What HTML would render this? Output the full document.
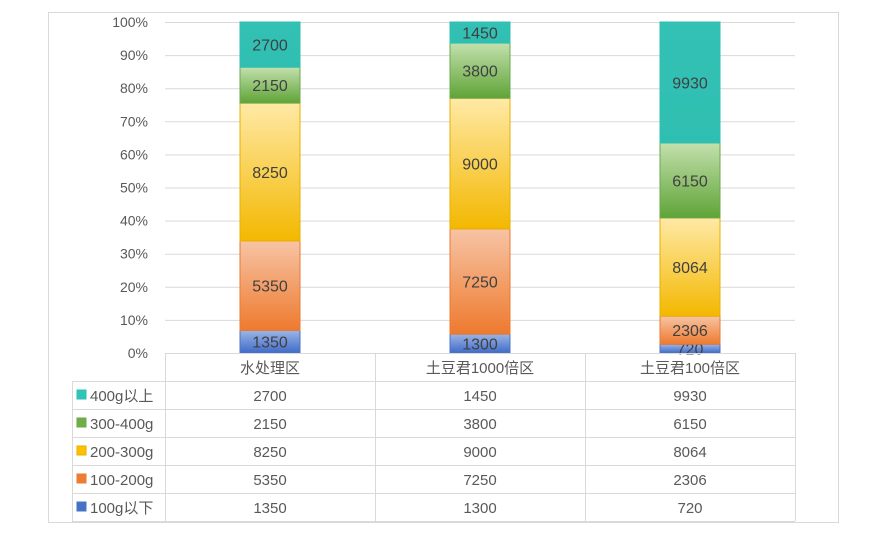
<!DOCTYPE html>
<html><head><meta charset="utf-8"><style>
body{margin:0;background:#fff;font-family:"Liberation Sans","Noto Sans CJK SC",sans-serif}
svg text{font-family:"Liberation Sans","Noto Sans CJK SC",sans-serif}
</style></head><body>
<svg id="c" width="888" height="530">
<defs>
<linearGradient id="g0" x1="0" y1="0" x2="0" y2="1"><stop offset="0" stop-color="#9db4e6"/><stop offset="1" stop-color="#3f6cc8"/></linearGradient>
<linearGradient id="g1" x1="0" y1="0" x2="0" y2="1"><stop offset="0" stop-color="#f7c4a5"/><stop offset="1" stop-color="#ee7a2e"/></linearGradient>
<linearGradient id="g2" x1="0" y1="0" x2="0" y2="1"><stop offset="0" stop-color="#ffe9a6"/><stop offset="1" stop-color="#f3b800"/></linearGradient>
<linearGradient id="g3" x1="0" y1="0" x2="0" y2="1"><stop offset="0" stop-color="#c3e0ad"/><stop offset="1" stop-color="#5fa437"/></linearGradient>
<linearGradient id="g4" x1="0" y1="0" x2="0" y2="1"><stop offset="0" stop-color="#33c1b4"/><stop offset="1" stop-color="#2fbfb2"/></linearGradient>
</defs>
<rect x="48.5" y="12.5" width="790" height="510" fill="#fff" stroke="#d9d9d9"/>
</svg>
<script>
const categories=["水处理区","土豆君1000倍区","土豆君100倍区"];
const seriesNames=["100g以下","100-200g","200-300g","300-400g","400g以上"];
const s100=[1350,1300,720];
const s200=[5350,7250,2306];
const s300=[8250,9000,8064];
const s400=[2150,3800,6150];
const s400p=[2700,1450,9930];
const yTicks=[0,10,20,30,40,50,60,70,80,90,100];
const series=[s100,s200,s300,s400,s400p];
const fills=["url(#g0)","url(#g1)","url(#g2)","url(#g3)","url(#g4)"];
const strokes=["#4a74c4","#e97a35","#e6b000","#6aa84f","#2fbfb2"];
const swatch=["#4472c4","#ed7d31","#ffc000","#70ad47","#2ec4b6"];
const NS="http://www.w3.org/2000/svg",svg=document.getElementById('c');
const X0=165,X1=795,Y0=353,Y1=22,cw=(X1-X0)/categories.length,bw=60;
const y=p=>Y0-(Y0-Y1)*p/100, xc=i=>X0+cw*(i+0.5);
function mk(t,a,txt){const e=document.createElementNS(NS,t);for(const k in a)e.setAttribute(k,a[k]);if(txt!=null)e.textContent=txt;svg.appendChild(e);return e;}
yTicks.forEach(t=>{
 const g=mk('line',{x1:X0,x2:X1,y1:y(t)+.5,y2:y(t)+.5,stroke:'#d9d9d9'});
 
 
 const l=mk('text',{x:148,y:y(t)+5,'text-anchor':'end','font-size':14,fill:'#595959'},t+'%');
 
 
});
categories.forEach((c,i)=>{
 const tot=series.reduce((a,s)=>a+s[i],0);let acc=0;
 series.forEach((s,k)=>{
  const p0=acc/tot*100;acc+=s[i];const p1=acc/tot*100;
  const r=mk('rect',{x:xc(i)-bw/2,y:y(p1),width:bw,height:y(p0)-y(p1),fill:fills[k],stroke:strokes[k],'stroke-width':1});
  
  
  const t=mk('text',{x:xc(i),y:(y(p0)+y(p1))/2+6,'text-anchor':'middle','font-size':16,fill:'#404040'},s[i]);
  
  
 });
});
// table
const rowH=28,T0=353;
const rows=[4,3,2,1,0];
const L=72;
mk('line',{x1:X0+.5,x2:X0+.5,y1:T0,y2:T0+rowH*6,stroke:'#d9d9d9'});
mk('line',{x1:L+.5,x2:L+.5,y1:T0+rowH,y2:T0+rowH*6,stroke:'#d9d9d9'});
for(let r=0;r<=6;r++){const yy=T0+rowH*r+.5;mk('line',{x1:r<1?X0:L,x2:X1,y1:yy,y2:yy,stroke:'#d9d9d9'});}
for(let i=0;i<=categories.length;i++){mk('line',{x1:X0+cw*i+.5,x2:X0+cw*i+.5,y1:T0,y2:T0+rowH*6,stroke:'#d9d9d9'});}
categories.forEach((c,i)=>{
 const t=mk('text',{x:xc(i),y:T0+20,'text-anchor':'middle','font-size':15,fill:'#595959'},c);
 
 
});
rows.forEach((k,r)=>{
 const yy=T0+rowH*(r+1);
 const sw=mk('rect',{x:77,y:yy+9,width:9,height:9,fill:swatch[k],stroke:strokes[k]});
 
 
 const n=mk('text',{x:90,y:yy+20,'font-size':15,fill:'#595959'},seriesNames[k]);
 
 
 categories.forEach((c,i)=>{
  const v=mk('text',{x:xc(i),y:yy+20,'text-anchor':'middle','font-size':15,fill:'#595959'},series[k][i]);
  
  
 });
});
</script>
</body></html>
